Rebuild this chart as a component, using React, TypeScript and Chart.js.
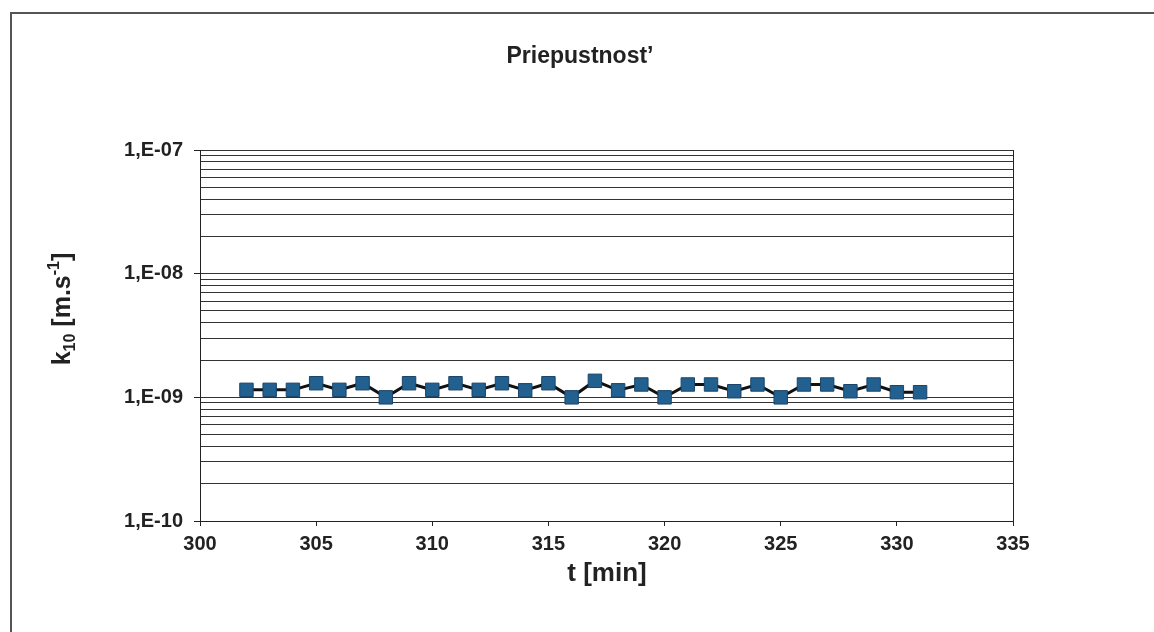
import { useEffect, useRef } from 'react';
import { Chart, registerables } from 'chart.js';

Chart.register(...registerables);

const times = [302, 303, 304, 305, 306, 307, 308, 309, 310, 311, 312, 313, 314, 315, 316, 317, 318, 319, 320, 321, 322, 323, 324, 325, 326, 327, 328, 329, 330, 331];
const k10 = [
  1.15e-9, 1.15e-9, 1.15e-9, 1.3e-9, 1.15e-9, 1.3e-9, 1.0e-9, 1.3e-9, 1.15e-9, 1.3e-9,
  1.15e-9, 1.3e-9, 1.14e-9, 1.3e-9, 1.0e-9, 1.36e-9, 1.14e-9, 1.27e-9, 1.0e-9, 1.27e-9,
  1.27e-9, 1.12e-9, 1.27e-9, 1.0e-9, 1.27e-9, 1.27e-9, 1.12e-9, 1.27e-9, 1.1e-9, 1.1e-9,
];
const xMin = 300;
const xMax = 335;
const xStep = 5;
const yDecades = [1e-10, 1e-9, 1e-8, 1e-7];
const yTickLabels = ['1,E-10', '1,E-09', '1,E-08', '1,E-07'];
const yMinorMultipliers = [1, 2, 3, 4, 5, 6, 7, 8, 9];
const chartTitle = 'Priepustnost\u2019';
const xTitle = 't [min]';
const yTitleMain = 'k';
const yTitleSub = '10';
const yTitleMid = ' [m.s';
const yTitleSup = '-1';
const yTitleEnd = ']';

const FONT = '"Liberation Sans", Arial, Helvetica, sans-serif';

function decadeIndex(v: number): number {
  for (let i = 0; i < yDecades.length; i++) {
    if (Math.abs(v - yDecades[i]) / yDecades[i] < 1e-6) return i;
  }
  return -1;
}

const decorPlugin = {
  id: 'decor',
  beforeDraw(chart: any) {
    const ctx = chart.ctx;
    ctx.save();
    ctx.fillStyle = '#ffffff';
    ctx.fillRect(0, 0, chart.width, chart.height);
    ctx.strokeStyle = '#555555';
    ctx.lineWidth = 2;
    ctx.beginPath();
    ctx.moveTo(11, chart.height + 5);
    ctx.lineTo(11, 13);
    ctx.lineTo(chart.width + 5, 13);
    ctx.stroke();
    ctx.restore();
  },
  afterDraw(chart: any) {
    const ctx = chart.ctx;
    const a = chart.chartArea;
    ctx.save();
    // right border of plot area
    ctx.strokeStyle = '#222222';
    ctx.lineWidth = 1;
    ctx.beginPath();
    ctx.moveTo(Math.round(a.right) + 0.5, a.top);
    ctx.lineTo(Math.round(a.right) + 0.5, a.bottom);
    ctx.stroke();

    ctx.fillStyle = '#222222';
    // chart title
    ctx.font = `bold 23px ${FONT}`;
    ctx.textAlign = 'center';
    ctx.textBaseline = 'middle';
    ctx.fillText(chartTitle, 580, 57);

    // x title
    ctx.font = `bold 26px ${FONT}`;
    ctx.fillText(xTitle, 607, 574);

    // y title, rotated with subscript and superscript
    ctx.translate(62, 309);
    ctx.rotate(-Math.PI / 2);
    const big = `bold 25px ${FONT}`;
    const small = `bold 16px ${FONT}`;
    ctx.font = big;
    const w1 = ctx.measureText(yTitleMain).width;
    const w3 = ctx.measureText(yTitleMid).width;
    const w5 = ctx.measureText(yTitleEnd).width;
    ctx.font = small;
    const w2 = ctx.measureText(yTitleSub).width;
    const w4 = ctx.measureText(yTitleSup).width;
    const total = w1 + w2 + w3 + w4 + w5;
    let x = -total / 2;
    ctx.textAlign = 'left';
    ctx.textBaseline = 'alphabetic';
    const base = 8;
    ctx.font = big;
    ctx.fillText(yTitleMain, x, base);
    x += w1;
    ctx.font = small;
    ctx.fillText(yTitleSub, x, base + 5);
    x += w2;
    ctx.font = big;
    ctx.fillText(yTitleMid, x, base);
    x += w3;
    ctx.font = small;
    ctx.fillText(yTitleSup, x, base - 11);
    x += w4;
    ctx.font = big;
    ctx.fillText(yTitleEnd, x, base);
    ctx.restore();
  },
};

export default function App() {
  const ref = useRef<HTMLCanvasElement | null>(null);

  useEffect(() => {
    const canvas = ref.current;
    if (!canvas) return;
    const chart = new Chart(canvas, {
      type: 'line',
      data: {
        datasets: [
          {
            label: 'k10',
            data: times.map((t, i) => ({ x: t, y: k10[i] })),
            borderColor: '#111111',
            borderWidth: 3,
            backgroundColor: '#22608f',
            pointStyle: 'rect',
            pointRadius: 9.5,
            pointBorderColor: '#1a4568',
            pointBorderWidth: 1,
            pointBackgroundColor: '#22608f',
            tension: 0,
            fill: false,
          },
        ],
      },
      options: {
        responsive: false,
        animation: false,
        devicePixelRatio: 1,
        layout: { padding: { top: 150, right: 141, bottom: 0, left: 0 } },
        plugins: {
          legend: { display: false },
          title: { display: false },
          tooltip: { enabled: false },
        },
        scales: {
          x: {
            type: 'linear',
            min: xMin,
            max: xMax,
            afterFit: (scale: any) => {
              scale.height = 111;
            },
            ticks: {
              stepSize: xStep,
              color: '#222222',
              font: { family: FONT, size: 20, weight: 'bold' },
              padding: 6,
            },
            grid: {
              drawOnChartArea: false,
              drawTicks: true,
              tickLength: 5,
              tickColor: '#222222',
            },
            border: { display: true, color: '#222222', width: 1 },
          },
          y: {
            type: 'logarithmic',
            min: yDecades[0],
            max: yDecades[yDecades.length - 1],
            afterFit: (scale: any) => {
              scale.width = 200;
            },
            afterBuildTicks: (scale: any) => {
              const ticks: { value: number }[] = [];
              for (let d = 0; d < yDecades.length - 1; d++) {
                for (const m of yMinorMultipliers) ticks.push({ value: m * yDecades[d] });
              }
              ticks.push({ value: yDecades[yDecades.length - 1] });
              scale.ticks = ticks;
            },
            ticks: {
              autoSkip: false,
              color: '#222222',
              font: { family: FONT, size: 20, weight: 'bold' },
              padding: 11,
              callback: (v: any) => {
                const i = decadeIndex(Number(v));
                return i >= 0 ? yTickLabels[i] : '';
              },
            },
            grid: {
              color: '#333333',
              lineWidth: 1,
              drawTicks: true,
              tickLength: 6,
              tickColor: (c: any) =>
                c.tick && decadeIndex(c.tick.value) >= 0 ? '#222222' : 'rgba(0,0,0,0)',
            },
            border: { display: true, color: '#222222', width: 1 },
          },
        },
      },
      plugins: [decorPlugin],
    } as any);
    return () => chart.destroy();
  }, []);

  return (
    <div style={{ position: 'fixed', left: 0, top: 0, width: 1154, height: 632, background: '#fff' }}>
      <canvas ref={ref} width={1154} height={632} style={{ width: 1154, height: 632, display: 'block' }} />
    </div>
  );
}
